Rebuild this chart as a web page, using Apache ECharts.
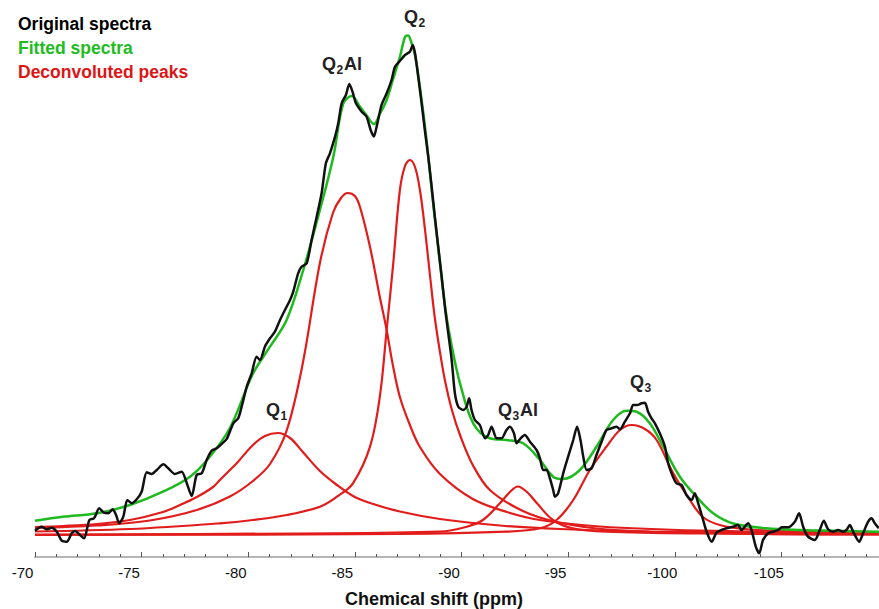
<!DOCTYPE html>
<html>
<head>
<meta charset="utf-8">
<script src="https://cdn.jsdelivr.net/npm/echarts@6/dist/echarts.min.js"></script>
<style>
html,body{margin:0;padding:0;background:#fff;}
#chart{width:879px;height:609px;}
</style>
</head>
<body>
<div id="chart"></div>
<script>
// ---- Data (chemical shift in ppm, intensity in arbitrary units) ----
const legendNames = ['Original spectra', 'Fitted spectra', 'Deconvoluted peaks'];
const axisTitle = 'Chemical shift (ppm)';
const peakNames = ['Q1', 'Q2Al', 'Q2', 'Q3Al', 'Q3'];

const originalSpectrum = [
[-70.00,4.3],[-70.31,8.3],[-70.55,5.7],[-70.78,7.3],[-71.02,3.3],[-71.25,-5.7],[-71.49,-6.7],[-71.72,1.7],[-71.88,4],[-72.11,0],
[-72.30,-3.3],[-72.55,15],[-72.77,16.7],[-73.01,26.7],[-73.23,22.3],[-73.44,21.7],[-73.64,25.7],[-73.80,20],[-73.95,11.7],[-74.14,18.3],
[-74.33,35],[-74.53,31.7],[-74.77,35.7],[-75.00,43.3],[-75.24,62.7],[-75.47,61],[-75.71,65],[-76.02,70.7],[-76.25,66.7],[-76.56,61],
[-76.88,63.3],[-77.11,52.3],[-77.35,39],[-77.58,60],[-77.82,61.7],[-78.05,75],[-78.28,84.3],[-78.52,86.7],[-78.75,91],[-78.99,96],
[-79.30,111.7],[-79.53,116.7],[-79.69,128.3],[-79.93,148.3],[-80.16,161.7],[-80.39,178.3],[-80.55,175],[-80.78,188.3],[-81.02,196.7],[-81.25,203.3],
[-81.49,215],[-81.72,225],[-81.96,235],[-82.11,243.3],[-82.34,261.7],[-82.50,268.3],[-82.74,271.7],[-82.97,295],[-83.21,318.3],[-83.44,341.7],
[-83.64,371.7],[-83.83,381.7],[-84.07,398.3],[-84.22,411.7],[-84.38,431.7],[-84.58,440],[-84.74,451],[-84.89,443.3],[-85.05,431.7],[-85.32,423.3],
[-85.55,418.3],[-85.74,405],[-85.89,398.5],[-86.02,408.3],[-86.25,430],[-86.49,441.7],[-86.72,455],[-86.88,468.3],[-87.11,474],[-87.35,480],
[-87.58,483.3],[-87.71,490],[-87.82,481.7],[-87.97,458.3],[-88.13,431.7],[-88.28,405],[-88.44,378.3],[-88.60,348.3],[-88.75,318.3],[-88.91,288.3],
[-89.07,258.3],[-89.22,228.3],[-89.38,201.7],[-89.54,175],[-89.69,141.7],[-89.85,128.3],[-90.08,125],[-90.24,128.3],[-90.36,136.7],[-90.47,125],
[-90.63,115],[-90.86,110],[-91.10,96.7],[-91.25,100],[-91.41,108.3],[-91.65,96.7],[-91.88,96.7],[-92.11,105],[-92.27,108.3],[-92.46,101.7],
[-92.58,91.7],[-92.77,96.7],[-92.97,100],[-93.21,93.3],[-93.52,85],[-93.68,76.7],[-93.83,65],[-93.99,65],[-94.14,57],[-94.30,45],
[-94.38,38.3],[-94.53,41.7],[-94.77,61.7],[-95.00,78.3],[-95.24,95],[-95.42,108.3],[-95.58,95],[-95.71,78.3],[-95.87,65],[-96.10,66.7],
[-96.33,80],[-96.57,93.3],[-96.80,105],[-97.04,106.7],[-97.27,108.3],[-97.43,105.7],[-97.66,113.3],[-97.90,121.7],[-98.05,130],[-98.24,130],
[-98.44,131.7],[-98.60,132.3],[-98.75,123.3],[-98.91,116.7],[-99.07,111.7],[-99.30,101.7],[-99.54,88.3],[-99.69,71.7],[-99.85,61.7],[-100.08,51.7],
[-100.32,50],[-100.55,40],[-100.79,35],[-100.94,41.7],[-101.10,31.7],[-101.33,15],[-101.52,1.7],[-101.73,-6.7],[-101.96,2.5],[-102.19,5],
[-102.43,6.7],[-102.74,8.3],[-102.97,10],[-103.13,5],[-103.44,11.7],[-103.60,5],[-103.80,-11.7],[-103.96,-18.3],[-104.14,-5],[-104.38,1.7],
[-104.61,3.3],[-104.85,5],[-105.01,7.7],[-105.32,7.7],[-105.63,13.3],[-105.83,21.7],[-106.02,8.3],[-106.25,-1.7],[-106.57,-5],[-106.80,5],
[-106.99,14.3],[-107.19,5.7],[-107.43,3.3],[-107.66,5],[-107.90,3.3],[-108.05,5],[-108.21,10],[-108.40,1.7],[-108.65,-6.7],[-108.83,1.7],
[-109.07,13.3],[-109.23,16.7],[-109.38,11.7],[-109.57,6.7]
];

const fittedSpectrum = [
[-70.00,14.3],[-71.31,18.3],[-72.91,21.7],[-74.45,30],[-76.00,43.3],[-77.27,58.3],[-78.20,78.3],[-79.14,107],[-80.23,161.7],[-81.02,188.3],
[-81.80,215],[-82.58,265],[-83.36,325],[-83.99,378.3],[-84.45,431],[-84.85,439],[-85.24,428.3],[-85.57,419],[-85.89,411],[-86.17,421],
[-86.49,435],[-86.78,455],[-87.11,478],[-87.35,498],[-87.49,499.5],[-87.63,494],[-87.82,480],[-88.05,448],[-88.36,395],[-88.67,331.7],
[-88.99,271.7],[-89.30,218],[-89.61,181.7],[-89.93,151.7],[-90.55,111.7],[-91.33,96.7],[-92.11,95],[-92.89,91.7],[-93.68,75],[-94.30,58.3],
[-94.77,56],[-95.55,65],[-96.33,88.3],[-97.11,115],[-97.74,124.3],[-98.21,123.3],[-98.83,111.7],[-99.46,88.3],[-100.24,58.3],[-101.02,38.3],
[-101.80,21.7],[-102.74,11.5],[-104.30,6.7],[-105.87,5],[-107.43,4.3],[-109.57,3.3],[-110.00,3.2]
];

const peakQ1 = [
[-70.00,8],[-71.31,9],[-72.91,11],[-74.45,15],[-76.00,23],[-76.80,30],[-77.59,38],[-78.35,48],[-78.67,55],[-79.14,65],[-79.47,72],
[-80.22,90],[-80.78,99],[-81.39,102],[-81.96,97],[-82.56,83],[-83.36,64],[-84.16,50],[-84.91,39],[-85.71,32],[-87.11,23.5],
[-88.99,16],[-91.80,9.5],[-94.61,6],[-98.83,3.5],[-103.52,2.5],[-110.00,1.5]
];

const peakQ2Al = [
[-70.00,7],[-72.91,9.5],[-75.39,14.5],[-77.59,25],[-79.14,38.5],[-80.22,54],[-81.02,71],[-81.81,105],[-82.56,172],[-83.36,272],
[-83.97,322],[-84.35,337],[-84.67,342],[-85.00,339],[-85.24,328],[-85.71,288],[-86.17,238],[-86.49,205],[-86.78,170],[-87.11,138],
[-87.58,110],[-88.05,88],[-88.99,61],[-90.53,36],[-92.13,23],[-93.68,15],[-96.49,8.5],[-101.18,4.5],[-110.00,2]
];

const peakQ2 = [
[-70.00,3.5],[-74.45,6],[-78.67,11.7],[-80.22,15],[-81.81,20],[-83.36,28.3],[-84.16,38.3],[-84.91,51.7],[-85.71,88.3],[-86.17,138.3],
[-86.49,205],[-86.80,271.7],[-87.11,345],[-87.35,369],[-87.58,375],[-87.82,368],[-88.05,345],[-88.28,307],[-88.52,260],[-88.75,217],
[-88.99,183],[-89.22,155],[-89.55,125],[-89.93,100],[-90.53,70],[-91.33,45],[-92.88,24],[-94.47,13],[-96.82,5.5],[-101.18,2],[-110.00,0.5]
];

const peakQ3Al = [
[-70.00,0.5],[-82.42,1.5],[-88.99,3.3],[-90.25,8.3],[-91.00,15],[-91.80,31.7],[-92.27,43],[-92.64,48.5],[-93.07,43],[-93.54,31.7],
[-94.29,15],[-95.22,6.7],[-96.82,3.3],[-101.18,1.5],[-110.00,0.5]
];

const peakQ3 = [
[-70.00,0],[-87.11,1],[-92.11,3.3],[-93.68,6.7],[-94.46,15],[-95.24,35],[-96.02,65],[-96.80,88.3],[-97.43,105],[-97.99,110],
[-98.60,106],[-99.15,95],[-99.93,61.7],[-100.71,35],[-101.32,18],[-102.11,10],[-103.52,5.5],[-105.87,3.5],[-110.00,2]
];

// ---- Chart ----
const chart = echarts.init(document.getElementById('chart'), null, {renderer: 'svg'});

const BLACK = '#111111', GREEN = '#1fba1f', RED = '#e21b1b';
const FONT = 'Liberation Sans, Arial, Helvetica, sans-serif';

function peakSeries(data) {
  return {
    name: legendNames[2], type: 'line', data: data, smooth: 0.35,
    showSymbol: false, symbol: 'none', z: 2,
    lineStyle: {color: RED, width: 2.2}, itemStyle: {color: RED}
  };
}

// peak label helper: main letter, subscript digit, optional suffix
function peakLabel(name, x, yc) {
  const main = name.charAt(0);
  const sub = name.charAt(1);
  const rest = name.slice(2);
  const els = [
    {type: 'text', x: x, y: yc, style: {text: main, font: 'bold 18px ' + FONT, fill: '#222', textVerticalAlign: 'middle'}},
    {type: 'text', x: x + 14.5, y: yc + 6, style: {text: sub, font: 'bold 12px ' + FONT, fill: '#222', textVerticalAlign: 'middle'}}
  ];
  if (rest) {
    els.push({type: 'text', x: x + 22, y: yc, style: {text: rest, font: 'bold 18px ' + FONT, fill: '#222', textVerticalAlign: 'middle'}});
  }
  return els;
}

const labelPos = {Q1: [266, 410], Q2Al: [322, 64], Q2: [404, 17], Q3Al: [498, 410], Q3: [630, 382]};
let graphics = [];
peakNames.forEach(function (n) { graphics = graphics.concat(peakLabel(n, labelPos[n][0], labelPos[n][1])); });

const option = {
  animation: false,
  backgroundColor: '#ffffff',
  grid: {left: 35, right: -9, top: 0, bottom: 52, containLabel: false, outerBoundsMode: 'none'},
  legend: {
    orient: 'vertical', left: 8, top: 10, itemGap: 6, padding: 5,
    itemWidth: 0, itemHeight: 17, icon: 'rect', selectedMode: false,
    itemStyle: {opacity: 0}, lineStyle: {opacity: 0},
    textStyle: {fontFamily: FONT, fontSize: 17.5, fontWeight: 'bold'},
    data: [
      {name: legendNames[0], textStyle: {color: '#000000'}},
      {name: legendNames[1], textStyle: {color: '#22bb22'}},
      {name: legendNames[2], textStyle: {color: '#dd1515'}}
    ]
  },
  xAxis: {
    type: 'value', inverse: true, min: -110, max: -70, interval: 5,
    name: axisTitle, nameLocation: 'middle', nameGap: 33,
    nameTextStyle: {fontFamily: FONT, fontSize: 18, fontWeight: 'bold', color: '#111', padding: [0, 55, 0, 0]},
    axisLine: {show: true, onZero: false, lineStyle: {color: '#b5b5b5', width: 2}},
    axisTick: {show: true, inside: true, length: 5, lineStyle: {color: '#555', width: 1}},
    minorTick: {show: true, splitNumber: 5, length: 3, lineStyle: {color: '#555', width: 1}},
    splitLine: {show: false},
    axisLabel: {showMinLabel: false, margin: 8, padding: [0, 25, 0, 0], fontFamily: FONT, fontSize: 15, color: '#111'}
  },
  yAxis: {
    type: 'value', min: -22, max: 535, show: false, splitLine: {show: false}
  },
  graphic: graphics,
  series: [
    peakSeries(peakQ1),
    peakSeries(peakQ2Al),
    peakSeries(peakQ2),
    peakSeries(peakQ3Al),
    peakSeries(peakQ3),
    {
      name: legendNames[1], type: 'line', data: fittedSpectrum, smooth: 0.35,
      showSymbol: false, symbol: 'none', z: 3,
      lineStyle: {color: GREEN, width: 2.5}, itemStyle: {color: GREEN}
    },
    {
      name: legendNames[0], type: 'line', data: originalSpectrum, smooth: 0.25,
      showSymbol: false, symbol: 'none', z: 4,
      lineStyle: {color: BLACK, width: 2.5}, itemStyle: {color: BLACK}
    }
  ]
};
chart.setOption(option);
</script>
</body>
</html>
